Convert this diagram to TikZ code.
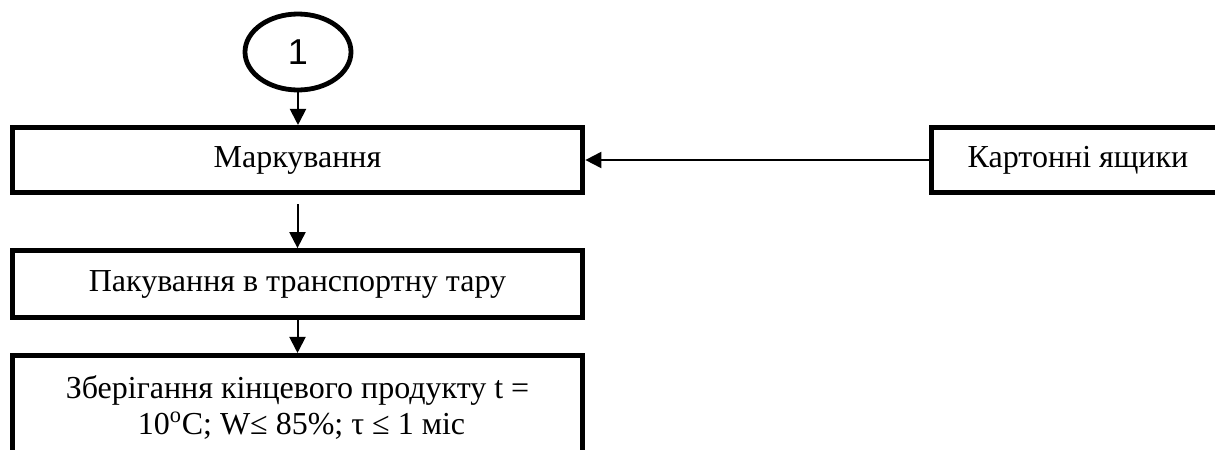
\documentclass[tikz,border=0pt]{standalone}
\usepackage{fontspec}
\setmainfont{Liberation Serif}
\newfontfamily\numfont{Liberation Sans}
\usetikzlibrary{arrows.meta,shapes.geometric}
\begin{document}
\begin{tikzpicture}[x=0.75pt,y=-0.75pt,
  box/.style={draw,line width=3.8pt,rectangle,inner sep=0pt,align=center,font=\fontsize{24}{26.5}\selectfont},
  conn/.style={line width=1.5pt,-{Triangle[length=12pt,width=12pt]}}]
\useasboundingbox (0,0) rectangle (1215,450);
\clip (0,0) rectangle (1215,450);
\node[draw,ellipse,line width=3.6pt,minimum width=79.5pt,minimum height=57pt,font=\numfont\fontsize{27}{30}\selectfont] (c1) at (298,52) {1};
\node[box,minimum width=428pt,minimum height=48.75pt] (m) at (297.5,160) {Маркування};
\node[box,minimum width=220pt,minimum height=48.75pt] (k) at (1078,160) {Картонні ящики};
\node[box,minimum width=428pt,minimum height=50pt] (p) at (297.5,284) {Пакування в транспортну тару};
\node[box,minimum width=428pt,minimum height=78pt] (z) at (297.5,407.5) {Зберігання кінцевого продукту t =\\ \hspace*{6pt}10\textsuperscript{o}C; W≤ 85\%; τ ≤ 1 міс};
\draw[conn] (c1.south) -- (c1.south |- m.north);
\draw[conn] (k.west) -- (m.east);
\draw[conn,shorten <=7pt] (m.south) -- (p.north);
\draw[conn] (p.south) -- (z.north);
\end{tikzpicture}
\end{document}
